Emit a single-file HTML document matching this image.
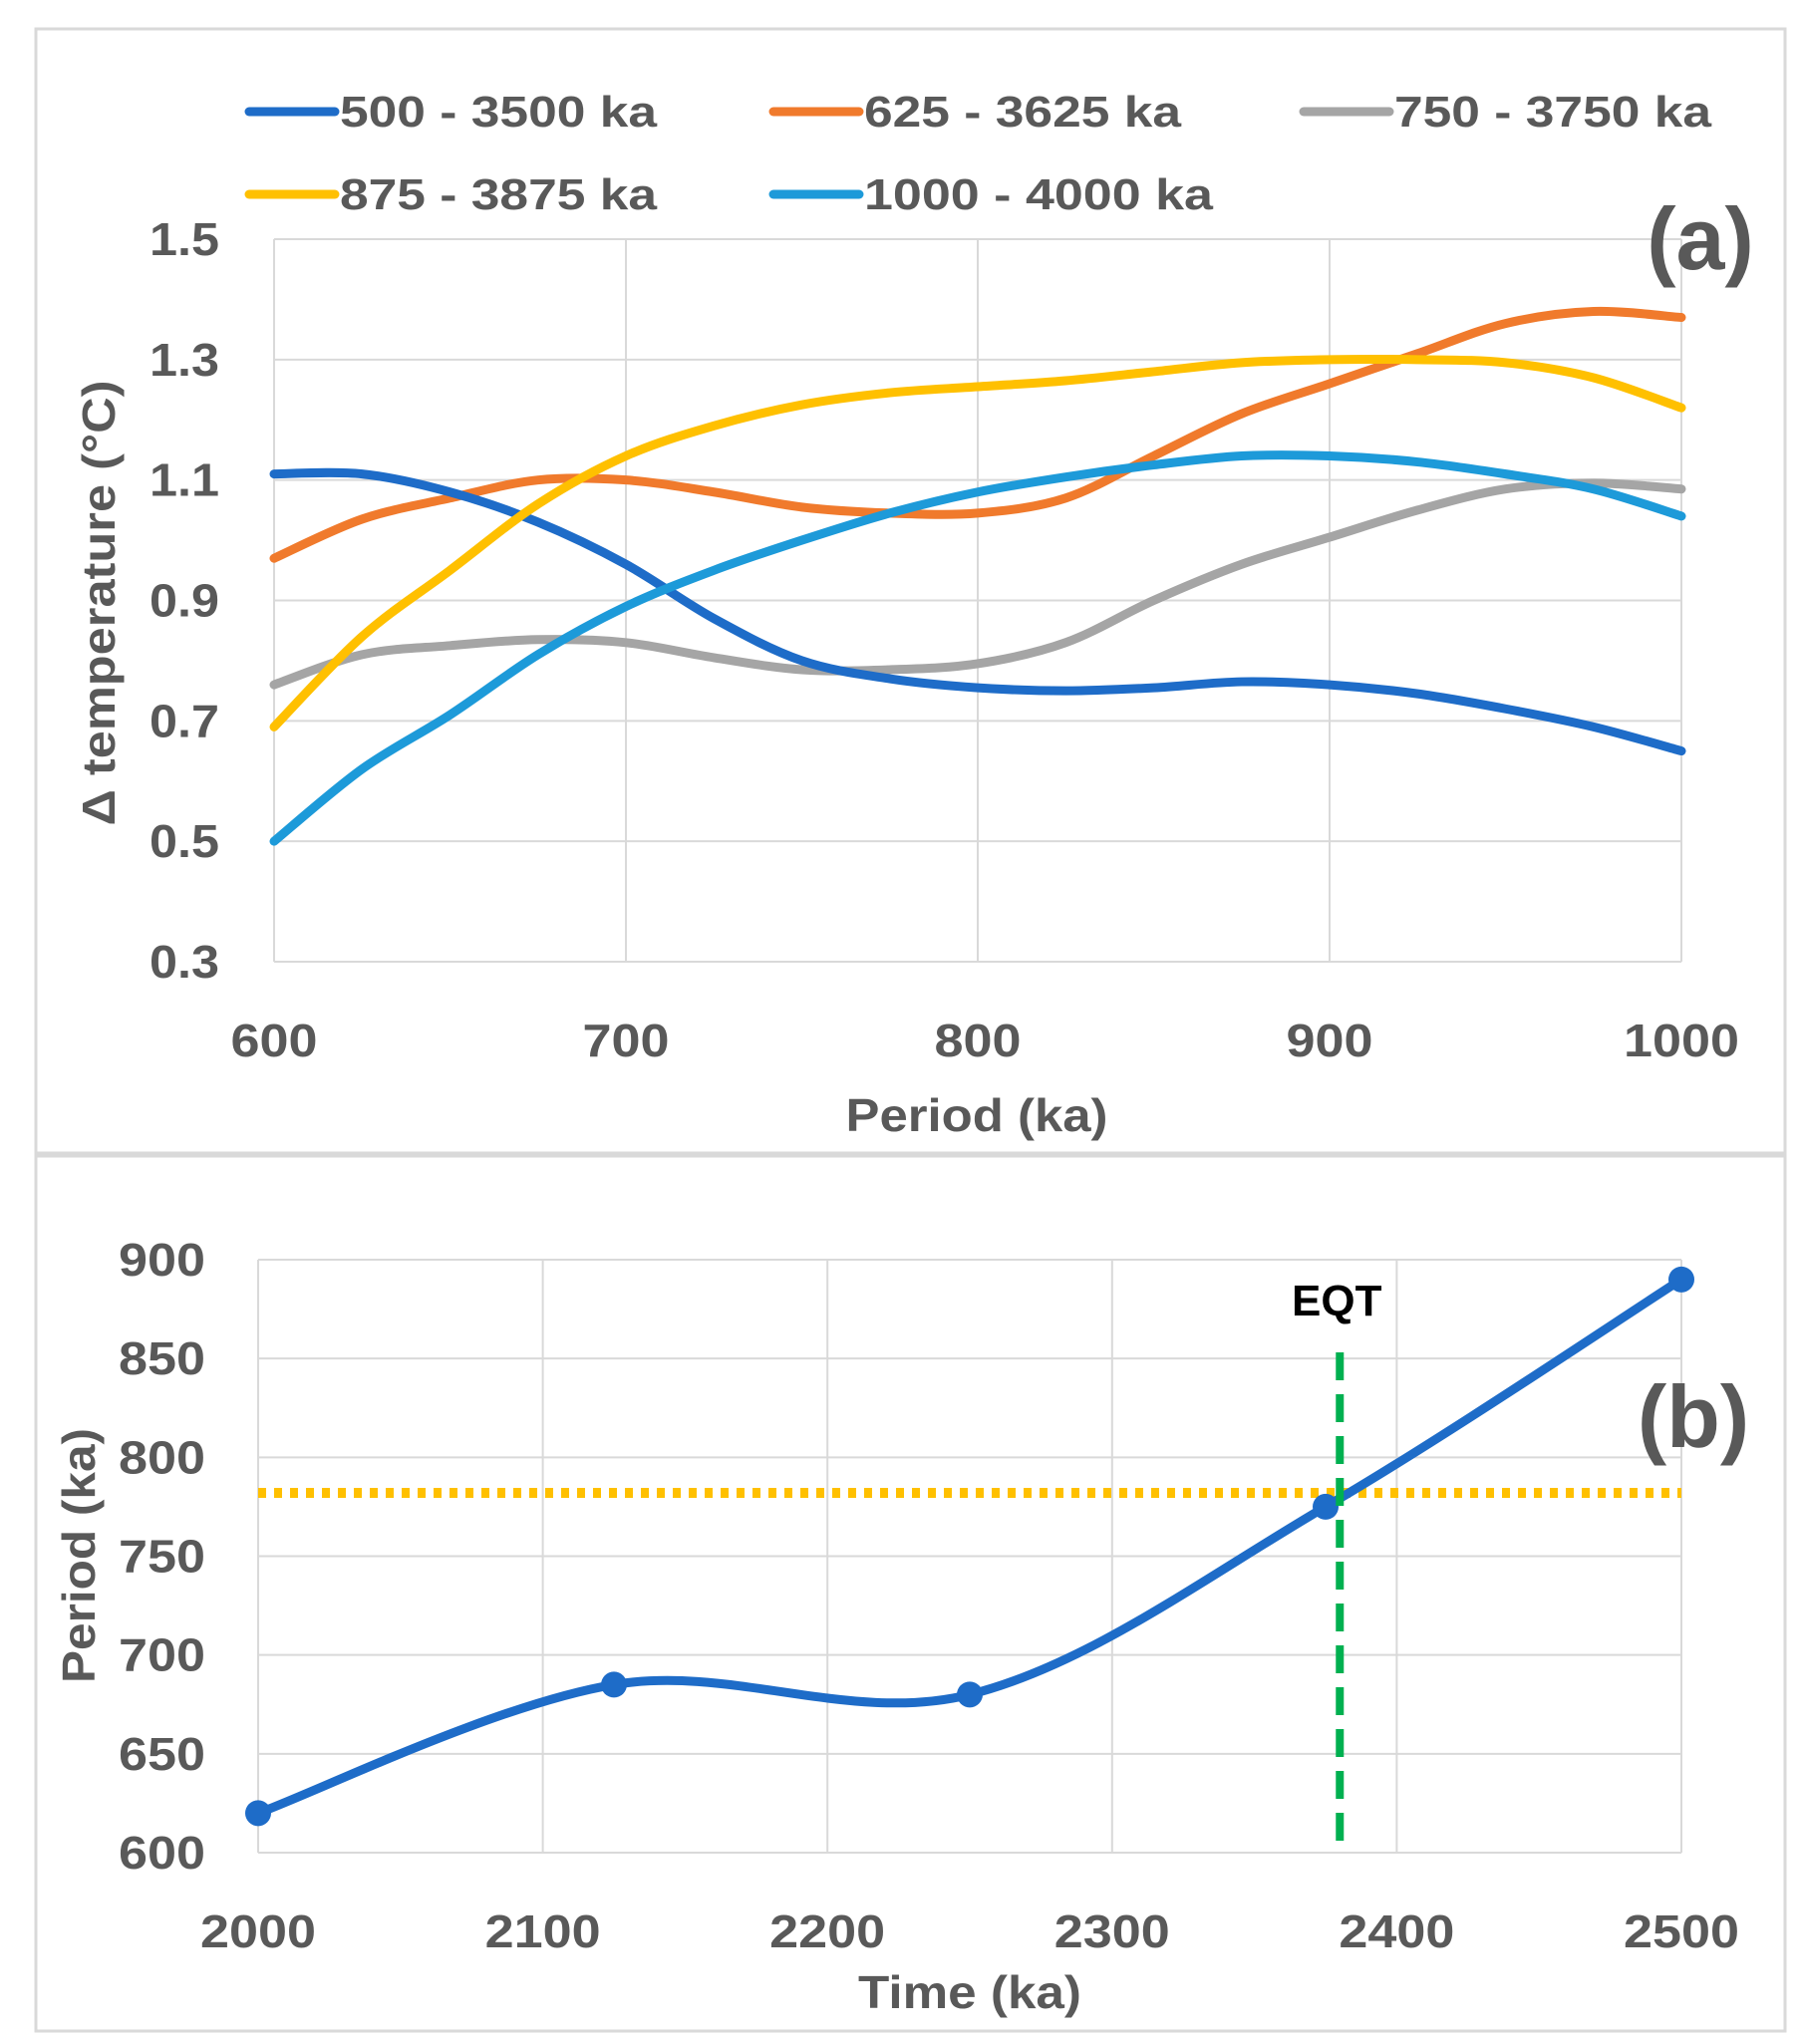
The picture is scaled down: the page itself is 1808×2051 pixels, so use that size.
<!DOCTYPE html>
<html><head><meta charset="utf-8"><style>
html,body{margin:0;padding:0;background:#fff}
svg{display:block}
text{font-family:"Liberation Sans",sans-serif;font-weight:bold;fill:#595959}
</style></head><body>
<svg id="s" width="1808" height="2051" viewBox="0 0 1808 2051">
<rect x="36" y="29" width="1755" height="1128" fill="#fff" stroke="#d9d9d9" stroke-width="3"/>
<rect x="36" y="1160" width="1755" height="878" fill="#fff" stroke="#d9d9d9" stroke-width="3"/>
<g id="ga"></g>
<g id="gb"></g>
</svg>
<script>
const aX=[600,625,650,675,700,725,750,775,800,825,850,875,900,925,950,975,1000];
const s500=[1.11,1.11,1.08,1.03,0.96,0.87,0.80,0.77,0.755,0.75,0.755,0.765,0.76,0.745,0.72,0.69,0.65];
const s625=[0.97,1.035,1.07,1.10,1.10,1.08,1.055,1.045,1.045,1.07,1.14,1.21,1.26,1.31,1.36,1.38,1.37];
const s750=[0.76,0.81,0.825,0.835,0.83,0.805,0.785,0.785,0.795,0.83,0.9,0.96,1.005,1.05,1.085,1.095,1.085];
const s875=[0.69,0.84,0.95,1.06,1.14,1.19,1.225,1.245,1.255,1.265,1.28,1.295,1.30,1.30,1.295,1.27,1.22];
const s1000=[0.50,0.62,0.71,0.81,0.89,0.95,1.00,1.045,1.08,1.105,1.125,1.14,1.14,1.13,1.11,1.085,1.04];
const aLabels=["500 - 3500 ka","625 - 3625 ka","750 - 3750 ka","875 - 3875 ka","1000 - 4000 ka"];
const aXTicks=[600,700,800,900,1000];
const aYTicks=[0.3,0.5,0.7,0.9,1.1,1.3,1.5];
const bX=[2000,2125,2250,2375,2500];
const bY=[620,685,680,775,890];
const bXTicks=[2000,2100,2200,2300,2400,2500];
const bYTicks=[600,650,700,750,800,850,900];
const eqtTime=2380;
const thresholdPeriod=782;

const NS="http://www.w3.org/2000/svg";
function mk(p,tag,at,txt){const e=document.createElementNS(NS,tag);for(const k in at)e.setAttribute(k,at[k]);if(txt!=null)e.textContent=txt;p.appendChild(e);return e;}
function smooth(pts){let d="M"+pts[0][0]+","+pts[0][1];for(let i=0;i<pts.length-1;i++){const p0=pts[i-1]||pts[i],p1=pts[i],p2=pts[i+1],p3=pts[i+2]||p2;const c1=[p1[0]+(p2[0]-p0[0])/6,p1[1]+(p2[1]-p0[1])/6];const c2=[p2[0]-(p3[0]-p1[0])/6,p2[1]-(p3[1]-p1[1])/6];d+="C"+c1+" "+c2+" "+p2;}return d;}
function tl(s){let w=0;for(const c of s)w+=(c==='.'?12:29);return w;}

// Chart A
const ga=document.getElementById('ga');
const ax=v=>275+(v-600)/400*(1687-275);
const ay=v=>965-(v-0.3)/1.2*(965-240);
aYTicks.forEach(t=>{const g=mk(ga,'line',{x1:275,x2:1687,y1:ay(t),y2:ay(t),stroke:'#d9d9d9','stroke-width':2});

const s=t.toFixed(1);
const l=mk(ga,'text',{x:220,y:ay(t)+16,'text-anchor':'end','font-size':46,textLength:tl(s),lengthAdjust:'spacingAndGlyphs'},s);
});
aXTicks.forEach(t=>{const g=mk(ga,'line',{x1:ax(t),x2:ax(t),y1:240,y2:965,stroke:'#d9d9d9','stroke-width':2});

const s=String(t);
const l=mk(ga,'text',{x:ax(t),y:1060,'text-anchor':'middle','font-size':46,textLength:tl(s),lengthAdjust:'spacingAndGlyphs'},s);
});
let t1=mk(ga,'text',{x:980,y:1135,'text-anchor':'middle','font-size':46,textLength:263,lengthAdjust:'spacingAndGlyphs'},'Period (ka)');

let t2=mk(ga,'text',{x:0,y:0,'text-anchor':'middle','font-size':46,textLength:447,lengthAdjust:'spacingAndGlyphs',transform:'translate(115,605) rotate(-90)'},'Δ temperature (°C)');

let t3=mk(ga,'text',{x:1706,y:270,'text-anchor':'middle','font-size':88},'(a)');

const aSeries=[s500,s625,s750,s875,s1000];
const aCols=['#1e6cc8','#f07a2c','#a5a5a5','#ffc000','#1d9ad9'];
const order=[2,1,0,4,3];
order.forEach(i=>{const p=mk(ga,'path',{d:smooth(aX.map((x,j)=>[ax(x),ay(aSeries[i][j])])),fill:'none',stroke:aCols[i],'stroke-width':9,'stroke-linecap':'round'});
});
const lg=[[250,112],[776,112],[1308,112],[250,195],[776,195]];
aLabels.forEach((lab,i)=>{const [x,y]=lg[i];
const l=mk(ga,'line',{x1:x,x2:x+86,y1:y,y2:y,stroke:aCols[i],'stroke-width':9,'stroke-linecap':'round'});

const t=mk(ga,'text',{x:x+91,y:y+15,'font-size':44,textLength:(lab.length===14?350:318),lengthAdjust:'spacingAndGlyphs'},lab);
});

// Chart B
const gb=document.getElementById('gb');
const bx=v=>259+(v-2000)/500*(1687-259);
const by=v=>1859-(v-600)/300*(1859-1264);
bYTicks.forEach(t=>{const g=mk(gb,'line',{x1:259,x2:1687,y1:by(t),y2:by(t),stroke:'#d9d9d9','stroke-width':2});

const s=String(t);
const l=mk(gb,'text',{x:206,y:by(t)+16,'text-anchor':'end','font-size':46,textLength:tl(s),lengthAdjust:'spacingAndGlyphs'},s);
});
bXTicks.forEach(t=>{const g=mk(gb,'line',{x1:bx(t),x2:bx(t),y1:1264,y2:1859,stroke:'#d9d9d9','stroke-width':2});

const s=String(t);
const l=mk(gb,'text',{x:bx(t),y:1954,'text-anchor':'middle','font-size':46,textLength:tl(s),lengthAdjust:'spacingAndGlyphs'},s);
});
let u1=mk(gb,'text',{x:973,y:2015,'text-anchor':'middle','font-size':46,textLength:224,lengthAdjust:'spacingAndGlyphs'},'Time (ka)');

let u2=mk(gb,'text',{x:0,y:0,'text-anchor':'middle','font-size':46,textLength:256,lengthAdjust:'spacingAndGlyphs',transform:'translate(95,1561) rotate(-90)'},'Period (ka)');

let u3=mk(gb,'text',{x:1699,y:1452,'text-anchor':'middle','font-size':88},'(b)');

const yl=mk(gb,'line',{x1:259,x2:1687,y1:by(thresholdPeriod),y2:by(thresholdPeriod),stroke:'#ffc000','stroke-width':10,'stroke-dasharray':'8 8'});

const bp=mk(gb,'path',{d:smooth(bX.map((x,j)=>[bx(x),by(bY[j])])),fill:'none',stroke:'#1e6cc8','stroke-width':9});

bX.forEach((x,j)=>{const c=mk(gb,'circle',{cx:bx(x),cy:by(bY[j]),r:13,fill:'#1e6cc8'});
});
const gl=mk(gb,'line',{x1:bx(eqtTime),x2:bx(eqtTime),y1:1357,y2:1848,stroke:'#00b050','stroke-width':8,'stroke-dasharray':'28 14'});

const et=mk(gb,'text',{x:bx(eqtTime)-3,y:1320,'text-anchor':'middle','font-size':44,style:'fill:#000'},'EQT');

</script>
</body></html>
